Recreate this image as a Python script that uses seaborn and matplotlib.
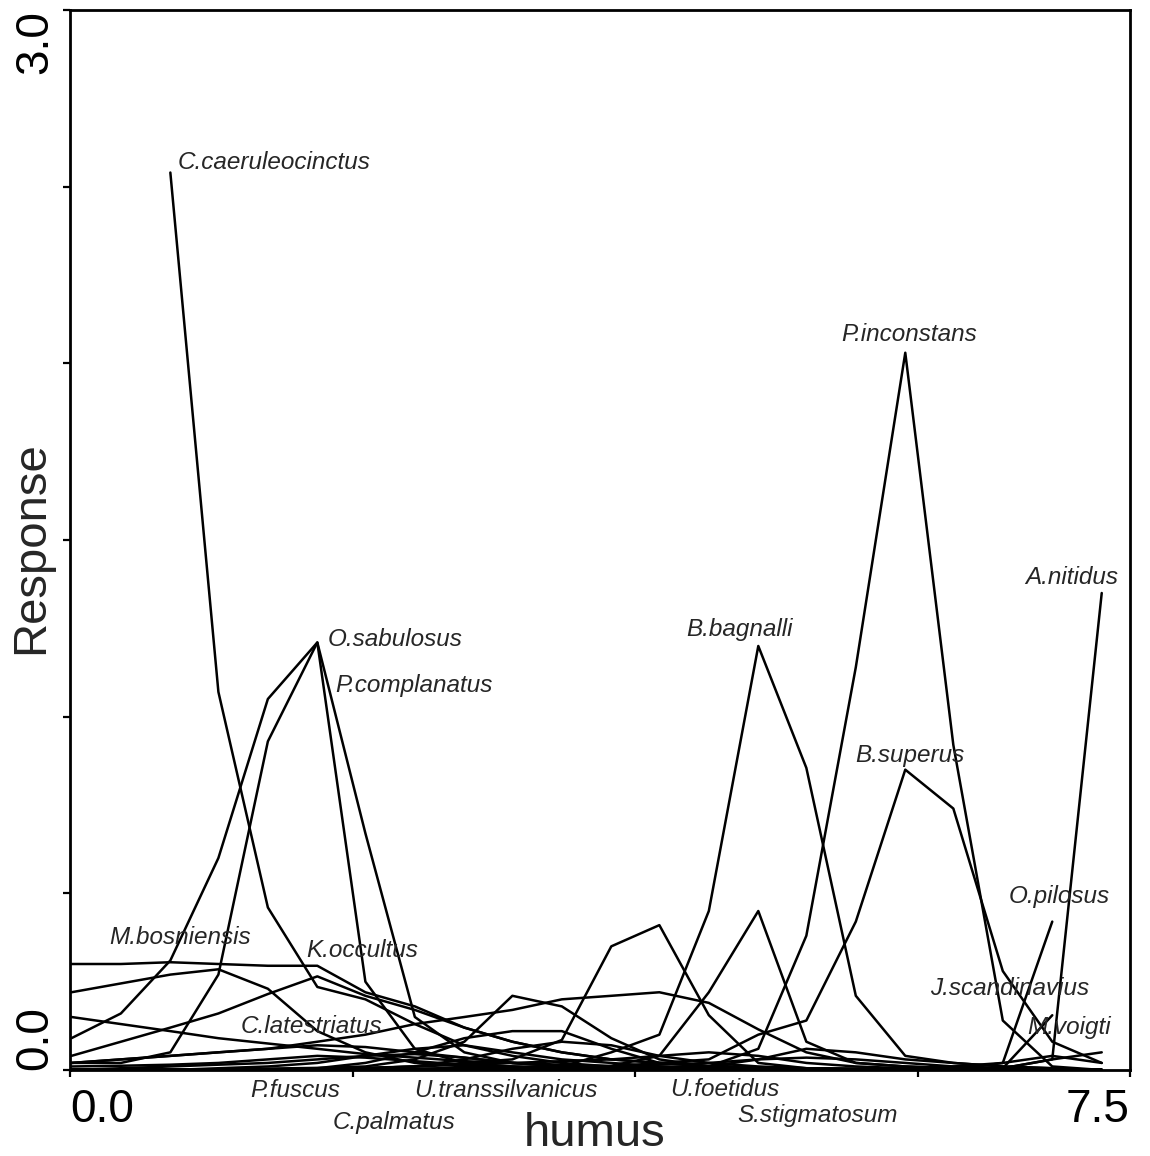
import numpy as np
import pandas as pd
import matplotlib
matplotlib.use("Agg")
import matplotlib.pyplot as plt
import seaborn as sns

nan = np.nan

# humus gradient positions (sampling points)
humus = [0.01, 0.36, 0.71, 1.05, 1.40, 1.75, 2.09, 2.44, 2.79, 3.13, 3.48,
         3.83, 4.17, 4.52, 4.87, 5.21, 5.56, 5.91, 6.25, 6.60, 6.95, 7.30]

# response values per species (NaN = outside sampled range)
c_caeruleocinctus = [nan, nan, 2.54, 1.07, 0.46, 0.235, 0.20, 0.13, 0.07, 0.04, 0.02,
                     0.01, 0.008, 0.006, 0.005, 0.004, 0.003, 0.002, 0.002, 0.001, 0.001, 0.001]
o_sabulosus = [0.09, 0.16, 0.31, 0.60, 1.05, 1.21, 0.25, 0.06, 0.02, 0.01, 0.005,
               0.003, 0.002, 0.001, 0.001, 0.0, 0.0, 0.0, 0.0, 0.0, 0.0, 0.0]
p_complanatus = [0.02, 0.02, 0.05, 0.27, 0.93, 1.21, 0.67, 0.15, 0.05, 0.02, 0.01,
                 0.005, 0.003, 0.002, 0.001, 0.0, 0.0, 0.0, 0.0, 0.0, 0.0, 0.0]
m_bosniensis = [0.30, 0.30, 0.305, 0.30, 0.295, 0.295, 0.22, 0.18, 0.12, 0.08, 0.05,
                0.03, 0.02, 0.012, 0.008, 0.005, 0.003, 0.002, 0.001, 0.0, 0.0, 0.0]
k_occultus = [0.04, 0.08, 0.12, 0.16, 0.215, 0.265, 0.21, 0.17, 0.12, 0.08, 0.05,
              0.03, 0.02, 0.01, 0.006, 0.004, 0.002, 0.001, 0.0, 0.0, 0.0, 0.0]
t_laevis = [0.22, 0.245, 0.27, 0.285, 0.23, 0.11, 0.05, 0.02, 0.01, 0.006, 0.004,
            0.003, 0.002, 0.001, 0.0, 0.0, 0.0, 0.0, 0.0, 0.0, 0.0, 0.0]
l_forficatus = [0.15, 0.13, 0.11, 0.09, 0.075, 0.06, 0.045, 0.035, 0.025, 0.02, 0.015,
                0.01, 0.008, 0.005, 0.003, 0.002, 0.001, 0.0, 0.0, 0.0, 0.0, 0.0]
c_latestriatus = [0.02, 0.03, 0.04, 0.05, 0.06, 0.07, 0.065, 0.05, 0.035, 0.02, 0.012,
                  0.008, 0.005, 0.003, 0.002, 0.001, 0.0, 0.0, 0.0, 0.0, 0.0, 0.0]
p_fuscus = [0.01, 0.012, 0.015, 0.02, 0.03, 0.04, 0.035, 0.025, 0.015, 0.01, 0.006,
            0.004, 0.002, 0.001, 0.0, 0.0, 0.0, 0.0, 0.0, 0.0, 0.0, 0.0]
c_palmatus = [0.0, 0.005, 0.01, 0.015, 0.02, 0.03, 0.04, 0.045, 0.035, 0.02, 0.01,
              0.006, 0.004, 0.002, 0.001, 0.0, 0.0, 0.0, 0.0, 0.0, 0.0, 0.0]
u_transsilvanicus = [0.0, 0.0, 0.0, 0.002, 0.004, 0.006, 0.01, 0.03, 0.08, 0.21, 0.18,
                     0.09, 0.03, 0.01, 0.005, 0.002, 0.001, 0.0, 0.0, 0.0, 0.0, 0.0]
l_germanicus = [0.02, 0.03, 0.04, 0.05, 0.06, 0.08, 0.10, 0.13, 0.15, 0.17, 0.20,
                0.21, 0.22, 0.19, 0.115, 0.05, 0.02, 0.01, 0.005, 0.002, 0.0, 0.0]
g_connexa = [0.0, 0.0, 0.0, 0.0, 0.0, 0.002, 0.005, 0.01, 0.02, 0.03, 0.085,
             0.35, 0.41, 0.155, 0.02, 0.005, 0.002, 0.0, 0.0, 0.0, 0.0, 0.0]
u_foetidus = [0.0, 0.0, 0.0, 0.0, 0.0, 0.0, 0.002, 0.004, 0.006, 0.008, 0.01,
              0.012, 0.04, 0.22, 0.45, 0.08, 0.02, 0.01, 0.005, 0.002, 0.0, 0.0]
s_stigmatosum = [0.0, 0.0, 0.0, 0.0, 0.0, 0.0, 0.0, 0.002, 0.004, 0.006, 0.008,
                 0.01, 0.015, 0.02, 0.03, 0.035, 0.03, 0.02, 0.01, 0.005, 0.002, 0.0]
s_crassipes = [0.0, 0.0, 0.0, 0.0, 0.002, 0.004, 0.006, 0.01, 0.015, 0.02, 0.025,
               0.03, 0.04, 0.05, 0.04, 0.02, 0.01, 0.005, 0.002, 0.0, 0.0, 0.0]
h_fasciatus = [0.0, 0.0, 0.0, 0.0, 0.0, 0.005, 0.02, 0.05, 0.09, 0.11, 0.11,
               0.06, 0.02, 0.01, 0.005, 0.002, 0.0, 0.0, 0.0, 0.0, 0.0, 0.0]
m_germanica = [0.0, 0.0, 0.0, 0.0, 0.0, 0.0, 0.005, 0.01, 0.03, 0.06, 0.08,
               0.07, 0.04, 0.02, 0.01, 0.005, 0.002, 0.0, 0.0, 0.0, 0.0, 0.0]
c_transsilvanica = [0.0, 0.0, 0.0, 0.005, 0.01, 0.02, 0.04, 0.06, 0.07, 0.05, 0.03,
                    0.02, 0.01, 0.005, 0.002, 0.0, 0.0, 0.0, 0.0, 0.0, 0.0, 0.0]
s_sp = [0.0, 0.0, 0.0, 0.0, 0.0, 0.0, 0.0, 0.0, 0.0, 0.0, 0.002,
        0.005, 0.008, 0.01, 0.03, 0.06, 0.05, 0.03, 0.02, 0.01, 0.005, 0.0]
b_bagnalli = [0.0, 0.0, 0.0, 0.0, 0.0, 0.0, 0.0, 0.0, 0.002, 0.005, 0.01,
              0.05, 0.10, 0.45, 1.20, 0.855, 0.21, 0.04, 0.02, 0.01, 0.005, 0.0]
p_inconstans = [0.0, 0.0, 0.0, 0.0, 0.0, 0.0, 0.0, 0.0, 0.0, 0.0, 0.0,
                0.0, 0.002, 0.01, 0.06, 0.38, 1.14, 2.03, 0.92, 0.14, 0.01, 0.0]
b_superus = [0.0, 0.0, 0.0, 0.0, 0.0, 0.0, 0.0, 0.0, 0.0, 0.002, 0.005,
             0.01, 0.02, 0.03, 0.10, 0.14, 0.42, 0.85, 0.74, 0.28, 0.08, 0.02]
a_nitidus = [0.0, 0.0, 0.0, 0.0, 0.0, 0.0, 0.0, 0.0, 0.0, 0.0, 0.0,
             0.0, 0.0, 0.0, 0.0, 0.0, 0.0, 0.0, 0.0, 0.005, 0.03, 1.35]
o_pilosus = [nan, nan, nan, nan, nan, nan, nan, nan, nan, nan, nan,
             nan, nan, nan, nan, nan, 0.0, 0.0, 0.0, 0.02, 0.42, nan]
m_voigti = [nan, nan, nan, nan, nan, nan, nan, nan, nan, nan, nan,
            nan, nan, nan, nan, nan, 0.0, 0.0, 0.0, 0.005, 0.155, nan]
j_scandinavius = [0.0, 0.0, 0.0, 0.0, 0.0, 0.0, 0.0, 0.0, 0.0, 0.0, 0.0,
                  0.0, 0.0, 0.0, 0.0, 0.0, 0.0, 0.0, 0.002, 0.005, 0.03, 0.05]
c_silvaticus = [0.0, 0.0, 0.0, 0.0, 0.0, 0.0, 0.0, 0.0, 0.0, 0.0, 0.0,
                0.0, 0.0, 0.0, 0.0, 0.002, 0.004, 0.006, 0.01, 0.02, 0.04, 0.02]

species = {
    "C.caeruleocinctus": c_caeruleocinctus, "O.sabulosus": o_sabulosus,
    "P.complanatus": p_complanatus, "M.bosniensis": m_bosniensis,
    "K.occultus": k_occultus, "T.laevis": t_laevis, "L.forficatus": l_forficatus,
    "C.latestriatus": c_latestriatus, "P.fuscus": p_fuscus, "C.palmatus": c_palmatus,
    "U.transsilvanicus": u_transsilvanicus, "L.germanicus": l_germanicus,
    "G.connexa": g_connexa, "U.foetidus": u_foetidus, "S.stigmatosum": s_stigmatosum,
    "S.crassipes": s_crassipes, "H.fasciatus": h_fasciatus, "M.germanica": m_germanica,
    "C.transsilvanica": c_transsilvanica, "S.sp": s_sp,
    "B.bagnalli": b_bagnalli, "P.inconstans": p_inconstans,
    "B.superus": b_superus, "A.nitidus": a_nitidus, "O.pilosus": o_pilosus,
    "M.voigti": m_voigti, "J.scandinavius": j_scandinavius, "C.silvaticus": c_silvaticus,
}

# label texts and their placement (data coords) with horizontal alignment
label_names = ["C.caeruleocinctus", "O.sabulosus", "P.complanatus", "P.inconstans",
               "B.bagnalli", "A.nitidus", "B.superus", "O.pilosus", "J.scandinavius",
               "M.voigti", "M.bosniensis", "K.occultus", "C.latestriatus", "P.fuscus",
               "C.palmatus", "U.transsilvanicus", "U.foetidus", "S.stigmatosum"]
label_x = [0.76, 1.82, 1.88, 5.94, 4.74, 7.09, 5.94, 7.00, 6.65,
           7.07, 0.78, 2.07, 1.705, 1.59, 2.29, 3.085, 4.63, 5.29]
label_y = [2.567, 1.217, 1.087, 2.083, 1.248, 1.395, 0.889, 0.492, 0.232,
           0.119, 0.374, 0.337, 0.122, -0.059, -0.150, -0.059, -0.054, -0.130]
label_ha = ["left", "left", "left"] + ["center"] * 15

rows = []
for name, vals in species.items():
    for h, v in zip(humus, vals):
        if not np.isnan(v):
            rows.append((name, h, v))
df = pd.DataFrame(rows, columns=["species", "humus", "Response"])

sns.set_style("ticks")
plt.rcParams["font.family"] = ["Liberation Sans", "DejaVu Sans"]

fig = plt.figure(figsize=(11.5, 11.56), dpi=100)
ax = fig.add_axes([70 / 1150, 86 / 1156, 1060 / 1150, 1060 / 1156])

sns.lineplot(data=df, x="humus", y="Response", units="species", estimator=None,
             color="black", linewidth=1.8, sort=True, ax=ax, legend=False)

ax.set_xlim(0, 7.5)
ax.set_ylim(0, 3.0)

for s in ax.spines.values():
    s.set_visible(True)
    s.set_color("black")
    s.set_linewidth(2.0)

ax.set_xticks([0, 2, 4, 6, 7.5])
ax.set_xticklabels(["0.0", "", "", "", "7.5"])
ax.set_yticks([0, 0.5, 1.0, 1.5, 2.0, 2.5, 3.0])
ax.set_yticklabels(["0.0", "", "", "", "", "", "3.0"])
ax.tick_params(axis="both", direction="out", length=5, width=1.6, colors="black",
               labelsize=33)
ax.tick_params(axis="x", pad=8)
ax.tick_params(axis="y", pad=4)
xl = ax.get_xticklabels()
xl[0].set_horizontalalignment("left")
xl[-1].set_horizontalalignment("right")
for t in ax.get_yticklabels():
    t.set_rotation(90)
yl = ax.get_yticklabels()
yl[0].set_verticalalignment("bottom")
yl[-1].set_verticalalignment("top")

ax.set_xlabel("humus", fontsize=34)
ax.set_ylabel("Response", fontsize=34)
ax.xaxis.set_label_coords(0.495, -0.040)
ax.yaxis.set_label_coords(-0.016, 0.493)

for name, lx, ly, ha in zip(label_names, label_x, label_y, label_ha):
    ax.text(lx, ly, name, ha=ha, va="center", fontsize=17.5, fontstyle="italic",
            color="#262626", clip_on=False)

fig.savefig("out.png", dpi=100, facecolor="white")
